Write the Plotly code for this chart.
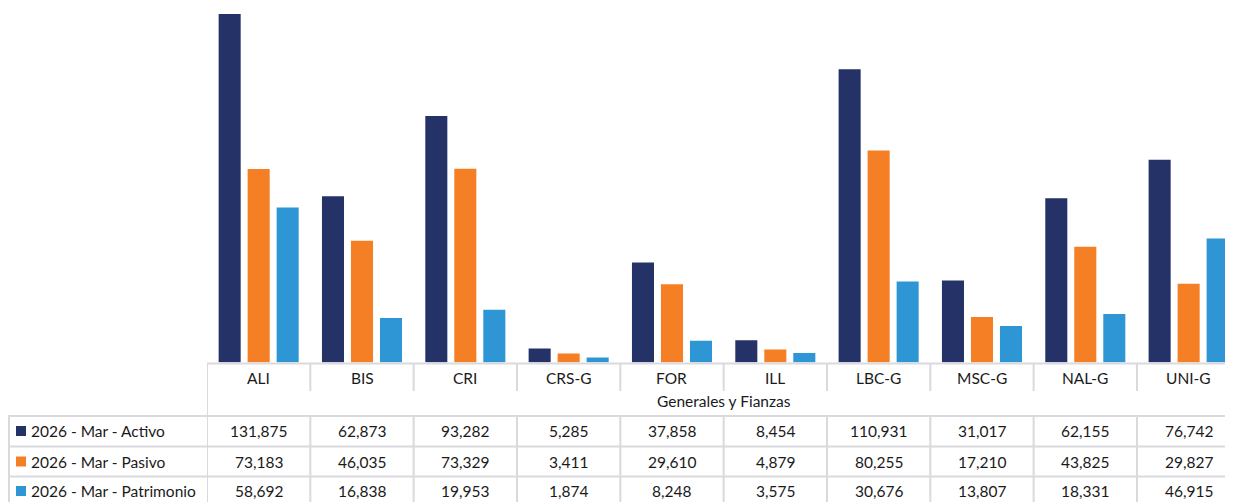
import plotly.graph_objects as go

categories = ["ALI", "BIS", "CRI", "CRS-G", "FOR", "ILL", "LBC-G", "MSC-G", "NAL-G", "UNI-G"]
series_names = ["2026 - Mar - Activo", "2026 - Mar - Pasivo", "2026 - Mar - Patrimonio"]
activo = [131875, 62873, 93282, 5285, 37858, 8454, 110931, 31017, 62155, 76742]
pasivo = [73183, 46035, 73329, 3411, 29610, 4879, 80255, 17210, 43825, 29827]
patrimonio = [58692, 16838, 19953, 1874, 8248, 3575, 30676, 13807, 18331, 46915]
group_label = "Generales y Fianzas"
colors = ["#243268", "#f57f25", "#2e96d4"]

W, H = 1233, 502
OFF = 8  # page body margin offset
LINE = "#d9d9de"
FONT = "Lato"
FS = 15.5

def py(p):
    return (H - (p - OFF)) / H

def px(p):
    return (p - OFF) / W

fig = go.Figure()
for name, vals, col in zip(series_names, [activo, pasivo, patrimonio], colors):
    fig.add_trace(go.Bar(x=categories, y=vals, name=name, marker_color=col,
                         marker_line_width=0, showlegend=False))

x_left = 207
cat_w = 103.33
span = (W + OFF - x_left) / cat_w

shapes = []
annotations = []

def hline(y, x0p, x1p=W + OFF):
    shapes.append(dict(type="line", xref="paper", yref="paper", x0=px(x0p), x1=px(x1p),
                       y0=py(y), y1=py(y), line=dict(color=LINE, width=2)))

def vline(x, y0, y1, xref="x"):
    shapes.append(dict(type="line", xref=xref, yref="paper", x0=x, x1=x,
                       y0=py(y0), y1=py(y1), line=dict(color=LINE, width=2)))

hline(363.5, x_left)
hline(416, 8)
hline(446.5, 8)
hline(476.5, 8)
vline(-0.5, 363, H + OFF)
vline(px(9), 416, H + OFF, xref="paper")
for i in range(1, len(categories) + 1):
    vline(i - 0.5, 363, 391)
    vline(i - 0.5, 416, H + OFF)

for i, c in enumerate(categories):
    annotations.append(dict(x=c, y=py(378), xref="x", yref="paper", text=c, showarrow=False,
                            font=dict(family=FONT, size=FS, color="#1a1a1a"),
                            xanchor="center", yanchor="middle"))
annotations.append(dict(x=4.5, y=py(401), xref="x", yref="paper", text=group_label,
                        showarrow=False, font=dict(family=FONT, size=FS, color="#1a1a1a"),
                        xanchor="center", yanchor="middle"))

row_y = [431, 461.5, 491]
for name, vals, col, ry in zip(series_names, [activo, pasivo, patrimonio], colors, row_y):
    shapes.append(dict(type="rect", xref="paper", yref="paper", x0=px(16), x1=px(26),
                       y0=py(ry - 5), y1=py(ry + 5), fillcolor=col, line=dict(width=0)))
    annotations.append(dict(x=px(29), y=py(ry), xref="paper", yref="paper", text=name,
                            showarrow=False, font=dict(family=FONT, size=FS, color="#1a1a1a"),
                            xanchor="left", yanchor="middle"))
    for c, v in zip(categories, vals):
        annotations.append(dict(x=c, y=py(ry), xref="x", yref="paper", text=f"{v:,}",
                                showarrow=False, font=dict(family=FONT, size=FS, color="#1a1a1a"),
                                xanchor="center", yanchor="middle"))

zero_px = 362.5
top_px = 14
scale = (zero_px - top_px) / max(activo)
ymax = (zero_px - OFF) / scale

fig.update_layout(
    width=W, height=H,
    margin=dict(l=0, r=0, t=0, b=0),
    paper_bgcolor="white", plot_bgcolor="white",
    barmode="group", bargap=0.158, bargroupgap=0.24,
    xaxis=dict(domain=[px(x_left), 1], range=[-0.5, -0.5 + span], showticklabels=False,
               showgrid=False, zeroline=False, showline=False, ticks=""),
    yaxis=dict(domain=[py(zero_px), 1], range=[0, ymax], showticklabels=False,
               showgrid=False, zeroline=False, showline=False, ticks=""),
    shapes=shapes, annotations=annotations,
    font=dict(family=FONT),
)

fig.write_html("out.html")
